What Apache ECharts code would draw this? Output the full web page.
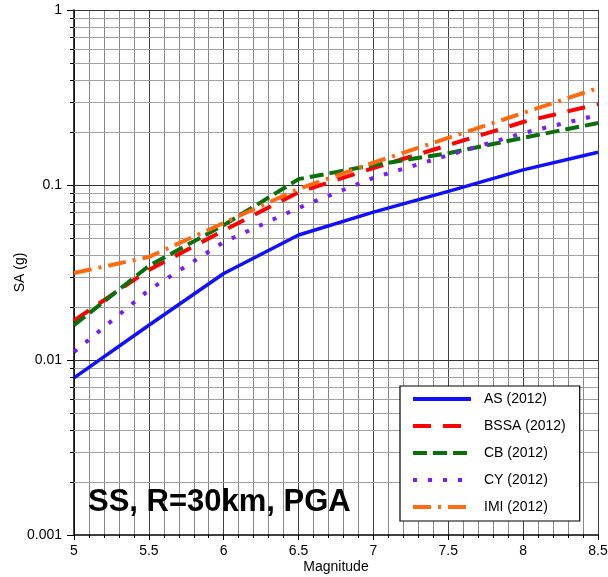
<!DOCTYPE html>
<html><head><meta charset="utf-8">
<script src="https://cdn.jsdelivr.net/npm/echarts@6/dist/echarts.min.js"></script>
<style>html,body{margin:0;padding:0;background:#fff}#c{width:608px;height:577px}</style>
</head><body><div id="c"></div>
<script>
const magnitudes = [5, 5.5, 6, 6.5, 7, 7.5, 8, 8.5];
const asVals   = [0.0079, 0.0158, 0.0312, 0.0518, 0.070, 0.092, 0.122, 0.154];
const bssaVals = [0.0168, 0.0327, 0.055, 0.091, 0.125, 0.169, 0.229, 0.290];
const cbVals   = [0.0158, 0.0345, 0.059, 0.108, 0.130, 0.152, 0.186, 0.226];
const cyVals   = [0.0111, 0.0251, 0.0472, 0.074, 0.110, 0.148, 0.198, 0.251];
const imiVals  = [0.0314, 0.0388, 0.0607, 0.095, 0.134, 0.186, 0.258, 0.358];
const seriesNames = ['AS (2012)', 'BSSA (2012)', 'CB (2012)', 'CY (2012)', 'IMI (2012)'];
const yTickLabels = ['0.001', '0.01', '0.1', '1'];
const annotation = 'SS, R=30km, PGA';
const decades = [0.001, 0.01, 0.1];
const majorGridVals = [0.01, 0.1, 1];
const minorMultipliers = [2, 3, 4, 5, 6, 7, 8, 9];

const minorVals = [];
decades.forEach(d => minorMultipliers.forEach(m => minorVals.push(+(d * m).toPrecision(3))));

const gridRows = minorVals.map(v => [xMinConst(), v, 0]).concat(majorGridVals.map(v => [xMinConst(), v, 1]));
function xMinConst() { return 5; }

const pairs = arr => magnitudes.map((m, i) => [m, arr[i]]);
const font = 'Liberation Sans, Arial, Helvetica, sans-serif';
const xMin = 5, xMax = 8.5;

function mkSeries(name, data, color, type, width) {
  return {
    name, type: 'line', data: pairs(data), symbol: 'none', showSymbol: false,
    lineStyle: { color, width, type, cap: 'butt' }, itemStyle: { color },
    animation: false, z: 5
  };
}

const chart = echarts.init(document.getElementById('c'), null, { renderer: 'canvas' });
chart.setOption({
  backgroundColor: '#fff',
  animation: false,
  grid: { left: 74, right: 10, top: 10, bottom: 42, containLabel: false, outerBoundsMode: 'none' },
  xAxis: {
    type: 'value', min: xMin, max: xMax, interval: 0.5,
    name: 'Magnitude', nameLocation: 'middle', nameGap: 25, nameMoveOverlap: false,
    nameTextStyle: { fontFamily: font, fontSize: 14, color: '#000' },
    axisLine: { show: true, lineStyle: { color: '#000', width: 1.5 } },
    axisTick: { show: true, length: 5, lineStyle: { color: '#000' } },
    axisLabel: { fontFamily: font, fontSize: 14, color: '#000', margin: 9,
      formatter: v => String(v) },
    splitLine: { show: true, lineStyle: { color: '#444', width: 1 } },
    minorTick: { show: true, splitNumber: 5, length: 3, lineStyle: { color: '#000' } },
    minorSplitLine: { show: true, lineStyle: { color: '#888', width: 1 } }
  },
  yAxis: {
    type: 'log', logBase: 10, min: 0.001, max: 1, interval: 1,
    name: 'SA (g)', nameLocation: 'middle', nameGap: 47, nameRotate: 90, nameMoveOverlap: false,
    nameTextStyle: { fontFamily: font, fontSize: 14, color: '#000' },
    axisLine: { show: true, lineStyle: { color: '#000', width: 1.5 } },
    axisTick: { show: true, length: 7, lineStyle: { color: '#000' } },
    axisLabel: { fontFamily: font, fontSize: 14, color: '#000', margin: 12,
      formatter: v => { const i = Math.round(Math.log10(v)) + 3; return yTickLabels[i] ?? String(v); } },
    splitLine: { show: false },
    minorTick: { show: false },
    minorSplitLine: { show: false }
  },
  legend: {
    orient: 'vertical', left: 400, top: 386,
    data: seriesNames,
    backgroundColor: '#fff', borderColor: '#000', borderWidth: 1.2,
    padding: [6, 14, 7, 11], itemGap: 13, itemWidth: 58, itemHeight: 14,
    itemStyle: { opacity: 0 },
    lineStyle: { width: 4 },
    textStyle: { fontFamily: font, fontSize: 14, color: '#000', padding: [0, 0, 0, 8] }
  },
  graphic: [{
    type: 'text', left: 88, top: 487, z: 10,
    style: { text: annotation, font: 'bold 31px ' + font, fill: '#000' }
  }],
  series: [
    {
      name: '_hgrid', type: 'custom', silent: true, z: 1, clip: false,
      data: gridRows,
      encode: { x: 0, y: 1 },
      renderItem: (params, api) => {
        const v = api.value(1);
        const major = api.value(2) === 1;
        const p0 = api.coord([xMin, v]);
        const p1 = api.coord([xMax, v]);
        const y = Math.round(p0[1]) + 0.5;
        const children = [
          { type: 'line', shape: { x1: p0[0], y1: y, x2: p1[0], y2: y },
            style: { stroke: major ? '#333' : '#a0a0a0', lineWidth: 1 } }
        ];
        if (!major) {
          children.push({ type: 'line', shape: { x1: p0[0] - 4, y1: y, x2: p0[0], y2: y },
            style: { stroke: '#000', lineWidth: 1 } });
        }
        return { type: 'group', children };
      }
    },
    mkSeries(seriesNames[0], asVals, '#1010ff', 'solid', 3.5),
    mkSeries(seriesNames[1], bssaVals, '#ff0000', [18, 12], 4),
    mkSeries(seriesNames[2], cbVals, '#0a700a', [14, 6], 4),
    mkSeries(seriesNames[3], cyVals, '#7a1aff', [4, 11], 4),
    mkSeries(seriesNames[4], imiVals, '#ff6a10', [18, 7, 3, 7], 4)
  ]
});
</script></body></html>
